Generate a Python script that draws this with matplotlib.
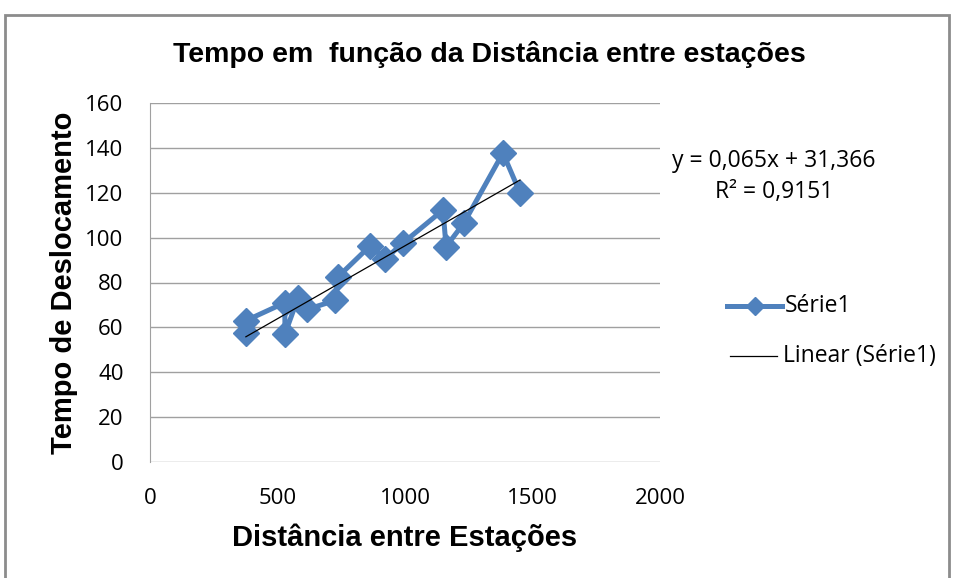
import matplotlib
matplotlib.use('Agg')
import matplotlib.pyplot as plt
from matplotlib.patches import Rectangle
from matplotlib.lines import Line2D

# distance between stations vs travel time
distancia = [376, 376, 529, 529, 580, 616, 726, 737, 863, 922, 992,
             1149, 1161, 1231, 1384, 1451]
tempo = [57.5, 63, 71, 57, 73, 68, 72, 82.5, 96.3, 90.5, 97.6,
         112.3, 96, 106.5, 137.7, 120]

# trend line coefficients as printed on the chart
coef = [0.065, 31.366]
r2 = 0.9151

xticks = [0, 500, 1000, 1500, 2000]
yticks = [0, 20, 40, 60, 80, 100, 120, 140, 160]

blue = '#4F81BD'
grid = '#A0A0A0'
tick_font = ['Open Sans', 'DejaVu Sans']
bold_font = ['Liberation Sans', 'DejaVu Sans']

fig = plt.figure(figsize=(9.56, 5.78), dpi=100)
ax = fig.add_axes([150/956, 1 - 462/578, 510/956, 359/578])

ax.plot(distancia, tempo, color=blue, lw=3.6, marker='D', ms=13,
        mec=blue, mfc=blue, zorder=3)
xs = [min(distancia), max(distancia)]
ax.plot(xs, [coef[0]*x + coef[1] for x in xs], color='black', lw=0.9, zorder=4)

ax.set_xlim(0, 2000)
ax.set_ylim(0, 160)
ax.set_xticks(xticks)
ax.set_yticks(yticks)
ax.set_xticklabels([str(t) for t in xticks], family=tick_font, fontsize=16)
ax.set_yticklabels([str(t) for t in yticks], family=tick_font, fontsize=16)
ax.tick_params(axis='y', length=0, pad=19)
ax.tick_params(axis='x', length=0, pad=19)
ax.yaxis.grid(True, color=grid, lw=1)
ax.set_axisbelow(True)
for s in ['top', 'right', 'bottom']:
    ax.spines[s].set_visible(False)
ax.spines['left'].set_color(grid)

ax.set_xlabel('Distância entre Estações', family=bold_font, fontsize=21,
              fontweight='bold', labelpad=10)
ax.set_ylabel('Tempo de Deslocamento', family=bold_font, fontsize=21,
              fontweight='bold', labelpad=5)

fig.text(489/956, 1 - 55/578, 'Tempo em  função da Distância entre estações',
         family=bold_font, fontsize=20.5, fontweight='bold', ha='center', va='center')

# trendline equation
fig.text(774/956, 1 - 161/578, 'y = 0,065x + 31,366',
         family=tick_font, fontsize=16.5, ha='center', va='center')
fig.text(774/956, 1 - 192/578, 'R² = 0,9151',
         family=tick_font, fontsize=16.5, ha='center', va='center')

# legend
fig.add_artist(Line2D([727/956, 782/956], [1 - 306/578]*2, color=blue, lw=3.6,
                      transform=fig.transFigure))
fig.add_artist(Line2D([755/956], [1 - 306/578], color=blue, marker='D', ms=9,
                      transform=fig.transFigure))
fig.text(785/956, 1 - 306/578, 'Série1', family=tick_font, fontsize=16.5, va='center')
fig.add_artist(Line2D([730/956, 777/956], [1 - 356/578]*2, color='black', lw=0.9,
                      transform=fig.transFigure))
fig.text(783/956, 1 - 356/578, 'Linear (Série1)', family=tick_font, fontsize=16.5,
         va='center')

# chart area border
fig.add_artist(Rectangle((5/956, -0.1), 944/956, 1.1 - 15/578, fill=False,
                         ec='#8C8C8C', lw=2, transform=fig.transFigure))

fig.savefig('out.png', dpi=100)
